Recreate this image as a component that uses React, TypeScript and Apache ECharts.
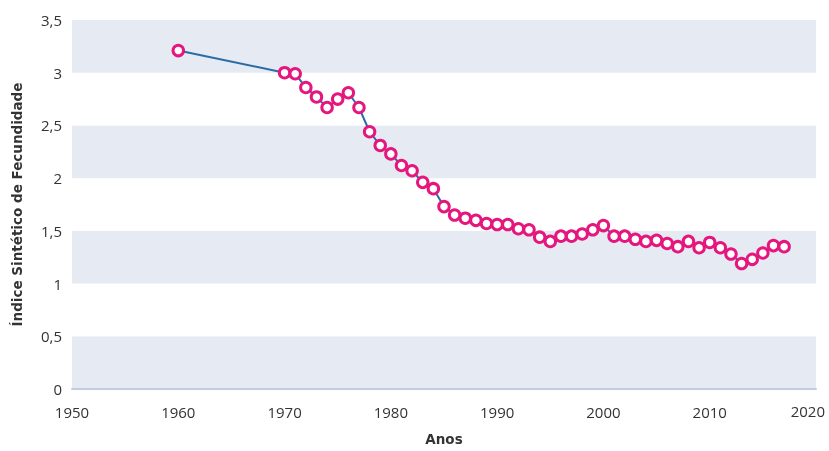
import React, { useEffect, useRef } from "react";
import * as echarts from "echarts";

const years = [1960, 1970, 1971, 1972, 1973, 1974, 1975, 1976, 1977, 1978, 1979, 1980, 1981, 1982, 1983, 1984, 1985, 1986, 1987, 1988, 1989, 1990, 1991, 1992, 1993, 1994, 1995, 1996, 1997, 1998, 1999, 2000, 2001, 2002, 2003, 2004, 2005, 2006, 2007, 2008, 2009, 2010, 2011, 2012, 2013, 2014, 2015, 2016, 2017];
const isf = [3.21, 3.0, 2.99, 2.86, 2.77, 2.67, 2.75, 2.81, 2.67, 2.44, 2.31, 2.23, 2.12, 2.07, 1.96, 1.90, 1.73, 1.65, 1.62, 1.60, 1.57, 1.56, 1.56, 1.52, 1.51, 1.44, 1.40, 1.45, 1.45, 1.47, 1.51, 1.55, 1.45, 1.45, 1.42, 1.40, 1.41, 1.38, 1.35, 1.40, 1.34, 1.39, 1.34, 1.28, 1.19, 1.23, 1.29, 1.36, 1.35];
const yTickLabels: Record<string, string> = { "0": "0", "0.5": "0,5", "1": "1", "1.5": "1,5", "2": "2", "2.5": "2,5", "3": "3", "3.5": "3,5" };
const lastXLabel = "2020";

export default function App() {
  const ref = useRef<HTMLDivElement>(null);
  useEffect(() => {
    if (!ref.current) return;
    const chart = echarts.init(ref.current, null, { renderer: "svg" });
    const font = "'Open Sans', sans-serif";
    const nameFont = "'DejaVu Sans', sans-serif";
    chart.setOption({
      animation: false,
      grid: { left: 72, right: 13, top: 20, bottom: 58 },
      graphic: [
        {
          type: "text",
          right: 4,
          top: 403,
          style: { text: lastXLabel, font: `15px ${font}`, fill: "#333" },
        },
      ],
      xAxis: {
        type: "value",
        min: 1950,
        max: 2020,
        interval: 10,
        name: "Anos",
        nameLocation: "middle",
        nameGap: 43,
        nameTextStyle: { fontFamily: nameFont, fontWeight: "bold", fontSize: 13.5, lineHeight: 14, color: "#333" },
        axisLine: { show: true, lineStyle: { color: "#c3cbe0", width: 2 } },
        axisTick: { show: false },
        splitLine: { show: false },
        axisLabel: {
          fontFamily: font,
          fontSize: 15,
          lineHeight: 18,
          color: "#333",
          margin: 14,
          showMaxLabel: false,
          formatter: (v: number) => String(v),
        },
      },
      yAxis: {
        type: "value",
        min: 0,
        max: 3.5,
        interval: 0.5,
        name: "Índice Sintético de Fecundidade",
        nameLocation: "middle",
        nameGap: 47,
        nameTextStyle: { fontFamily: nameFont, fontWeight: "bold", fontSize: 13.5, lineHeight: 16, color: "#333" },
        axisLine: { show: false },
        axisTick: { show: false },
        splitLine: { show: false },
        splitArea: { show: true, areaStyle: { color: ["#e6eaf3", "#ffffff"] } },
        axisLabel: {
          fontFamily: font,
          fontSize: 15,
          color: "#333",
          margin: 10,
          formatter: (v: number) => yTickLabels[String(v)] ?? String(v).replace(".", ","),
        },
      },
      series: [
        {
          type: "line",
          data: years.map((y, i) => [y, isf[i]]),
          lineStyle: { color: "#2a6ca6", width: 2 },
          symbol: "circle",
          symbolSize: 10.5,
          itemStyle: { color: "#ffffff", borderColor: "#e5177e", borderWidth: 3 },
        },
      ],
    });
    return () => chart.dispose();
  }, []);
  return (
    <div
      ref={ref}
      style={{ position: "fixed", left: 0, top: 0, width: 829, height: 451, overflow: "hidden" }}
    />
  );
}
